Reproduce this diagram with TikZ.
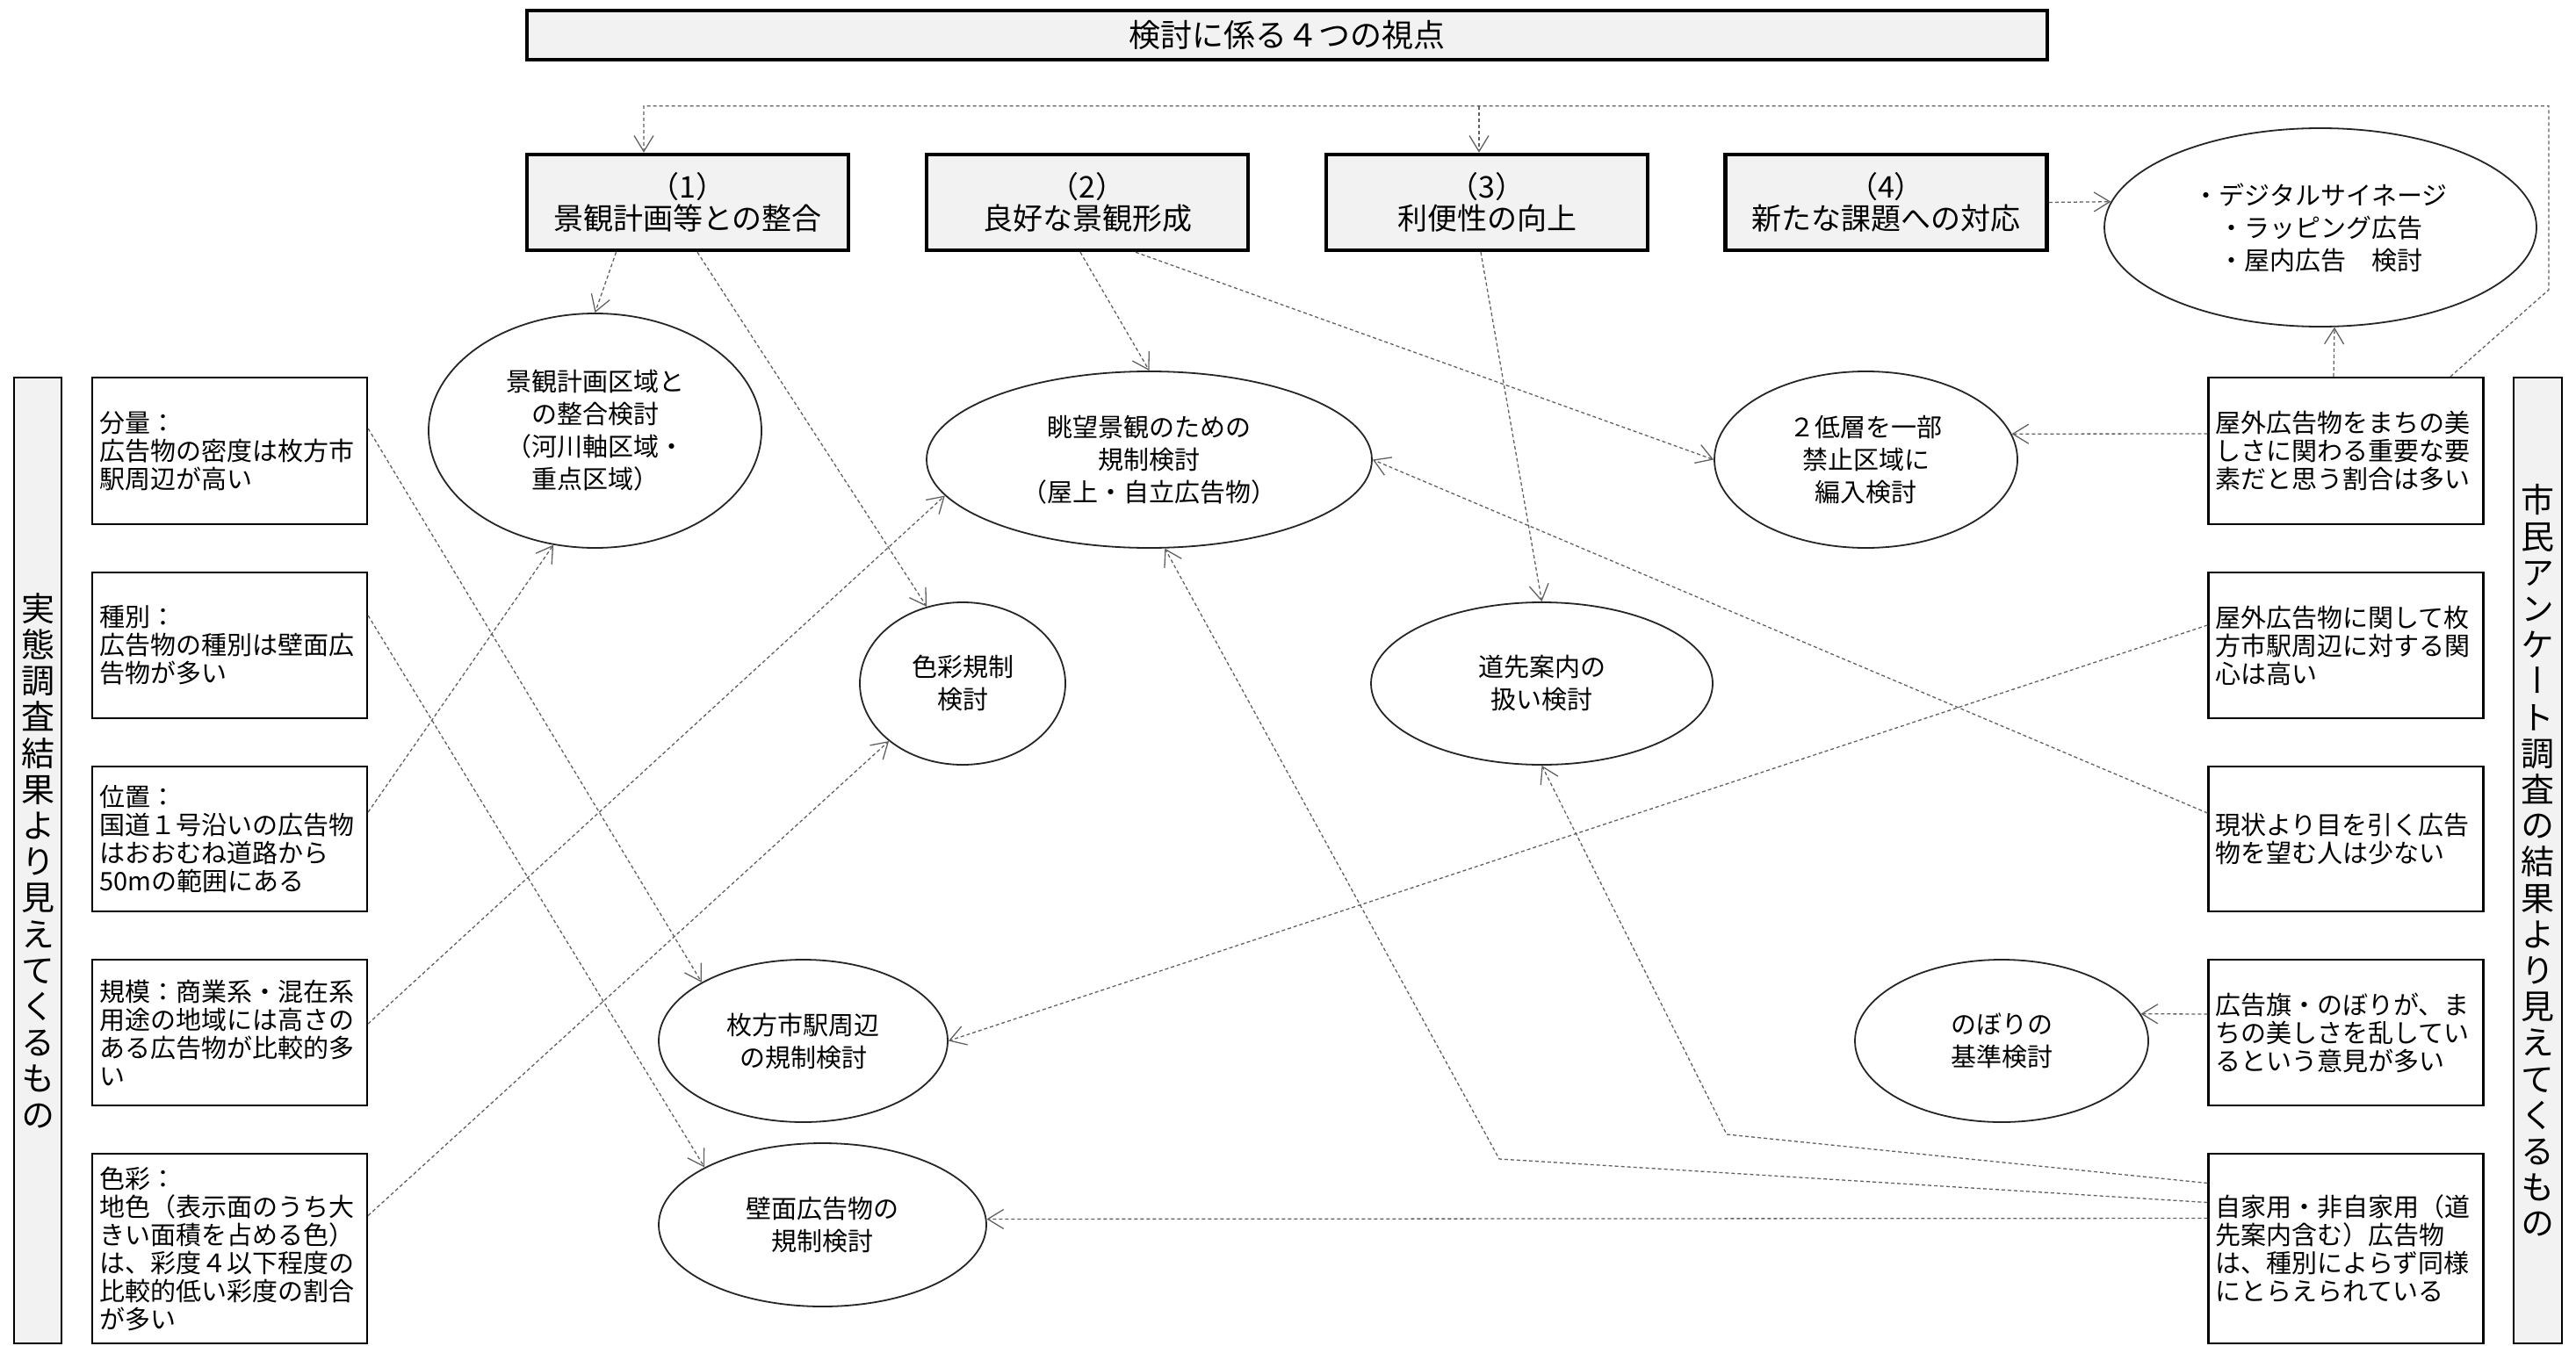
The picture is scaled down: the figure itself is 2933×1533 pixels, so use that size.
\documentclass[tikz,border=0pt]{standalone}
\usepackage{fontspec}
\setmainfont{Noto Sans CJK JP}
\newfontfamily\vertfont[RawFeature=+vert]{Noto Sans CJK JP}
\usetikzlibrary{arrows.meta,shapes.geometric,calc}
\begin{document}
\begin{tikzpicture}[x=1pt,y=-1pt,
  conn/.style={draw=black!62, line width=1.3pt, dash pattern=on 4pt off 3pt,
    -{Straight Barb[length=18pt,width=22pt,line width=1.3pt]}},
  titlebox/.style={draw=black, line width=4.5pt, fill=black!5, minimum width=1731pt,
    minimum height=56pt, inner sep=0pt, font=\fontsize{36}{40}\selectfont},
  topbox/.style={draw=black, line width=4.5pt, fill=black!5, minimum width=366pt,
    minimum height=109pt, align=center, inner sep=0pt, font=\fontsize{34}{36}\selectfont},
  ell/.style={ellipse, draw=black!85, line width=1.8pt, align=center, inner sep=0pt,
    font=\fontsize{29}{37}\selectfont},
  infobox/.style={draw=black, line width=2.2pt, fill=white, align=left, text width=297pt,
    inner xsep=8pt, inner ysep=0pt, font=\fontsize{29}{32}\selectfont},
  sidebar/.style={draw=black, line width=2pt, fill=black!5, align=center, inner sep=0pt,
    minimum height=1100pt, font=\vertfont\fontsize{38}{41.2}\selectfont}
]
\fill[white] (0,0) rectangle (2933,1533);
\useasboundingbox (0,0) rectangle (2933,1533);

% title and viewpoints
\node[titlebox] (T) at (1465.5,40) {検討に係る４つの視点};
\node[topbox] (Q1) at (783,230.5) {（1）\\景観計画等との整合};
\node[topbox] (Q2) at (1238,230.5) {（2）\\良好な景観形成};
\node[topbox] (Q3) at (1693,230.5) {（3）\\利便性の向上};
\node[topbox] (Q4) at (2147.5,230.5) {（4）\\新たな課題への対応};

% side bars
\node[sidebar, minimum width=54pt] (LB) at (43,980) {実\\態\\調\\査\\結\\果\\よ\\り\\見\\え\\て\\く\\る\\も\\の};
\node[sidebar, minimum width=55pt] (RB) at (2889.5,980) {市\\民\\ア\\ン\\ケ\\ー\\ト\\調\\査\\の\\結\\果\\よ\\り\\見\\え\\て\\く\\る\\も\\の};

% left boxes
\node[infobox, minimum height=167pt] (L1) at (261.5,513.5) {分量：\\広告物の密度は枚方市\\駅周辺が高い};
\node[infobox, minimum height=166pt] (L2) at (261.5,735) {種別：\\広告物の種別は壁面広\\告物が多い};
\node[infobox, minimum height=165pt] (L3) at (261.5,955.5) {位置：\\国道１号沿いの広告物\\はおおむね道路から\\50mの範囲にある};
\node[infobox, minimum height=166pt] (L4) at (261.5,1176) {規模：商業系・混在系\\用途の地域には高さの\\ある広告物が比較的多\\い};
\node[infobox, minimum height=216pt] (L5) at (261.5,1422) {色彩：\\地色（表示面のうち大\\きい面積を占める色）\\は、彩度４以下程度の\\比較的低い彩度の割合\\が多い};

% right boxes
\node[infobox, minimum height=167pt] (R1) at (2671,513.5) {屋外広告物をまちの美\\しさに関わる重要な要\\素だと思う割合は多い};
\node[infobox, minimum height=166pt] (R2) at (2671,735) {屋外広告物に関して枚\\方市駅周辺に対する関\\心は高い};
\node[infobox, minimum height=165pt] (R3) at (2671,955.5) {現状より目を引く広告\\物を望む人は少ない};
\node[infobox, minimum height=166pt] (R4) at (2671,1176) {広告旗・のぼりが、ま\\ちの美しさを乱してい\\るという意見が多い};
\node[infobox, minimum height=216pt] (R5) at (2671,1422) {自家用・非自家用（道\\先案内含む）広告物\\は、種別によらず同様\\にとらえられている};

% ellipses
\node[ell, minimum width=492pt, minimum height=226pt] (BE) at (2642,259) {・デジタルサイネージ\\・ラッピング広告\\・屋内広告　検討};
\node[ell, minimum width=379pt, minimum height=267pt] (E1) at (677.5,490.5) {景観計画区域と\\の整合検討\\（河川軸区域・\\重点区域）};
\node[ell, minimum width=507pt, minimum height=201pt] (E2) at (1308.5,523.5) {眺望景観のための\\規制検討\\（屋上・自立広告物）};
\node[ell, minimum width=234pt, minimum height=185pt] (E3) at (1096,778.5) {色彩規制\\検討};
\node[ell, minimum width=389pt, minimum height=185pt] (E4) at (1755.5,778.5) {道先案内の\\扱い検討};
\node[ell, minimum width=345pt, minimum height=201pt] (E5) at (2124.5,523.5) {２低層を一部\\禁止区域に\\編入検討};
\node[ell, minimum width=329pt, minimum height=185pt] (E6) at (914.5,1185.5) {枚方市駅周辺\\の規制検討};
\node[ell, minimum width=373pt, minimum height=186pt] (E7) at (936.5,1395) {壁面広告物の\\規制検討};
\node[ell, minimum width=334pt, minimum height=185pt] (E8) at (2279,1185.5) {のぼりの\\基準検討};

% helper coordinates
\coordinate (lpA) at (2902,330);
\coordinate (lpB) at (2902,120.7);
\coordinate (q1in) at ([xshift=-50pt]Q1.north);
\coordinate (q3in) at ([xshift=-9pt]Q3.north);
\coordinate (cA) at (1966,1292);
\coordinate (cB) at (1707,1320);

% connectors from viewpoints
\draw[conn] ([xshift=-81.5pt]Q1.south) -- (E1.north);
\draw[conn] ([xshift=11pt]Q1.south) -- (E3.115);
\draw[conn] ([xshift=-8pt]Q2.south) -- (E2.north);
\draw[conn] ([xshift=55pt]Q2.south) -- (E5.west);
\draw[conn] ([xshift=-7pt]Q3.south) -- (E4.north);
\draw[conn] (Q4.east) -- (BE.173);

% top loop
\draw[conn] ([xshift=119pt]R1.north) -- (lpA) -- (lpB) -| (q1in);
\draw[conn] (q3in |- lpB) -- (q3in);
\draw[conn] ([xshift=-14pt]R1.north) -- (BE.278);

% right boxes
\draw[conn] ([yshift=19.5pt]R1.west) -- (E5.10);
\draw[conn] ([yshift=23pt]R2.west) -- (E6.east);
\draw[conn] ([yshift=29.5pt]R3.west) -- (E2.east);
\draw[conn] ([yshift=21pt]R4.west) -- (E8.11);
\draw[conn] ([yshift=74.5pt]R5.west) -- (cA) -- (E4.south);
\draw[conn] ([yshift=52.5pt]R5.west) -- (cB) -- (E2.280);
\draw[conn] ([yshift=34.5pt]R5.west) -- (E7.2);

% left boxes
\draw[conn] ([yshift=25.5pt]L1.east) -- (E6.150);
\draw[conn] ([yshift=34pt]L2.east) -- (E7.154);
\draw[conn] ([yshift=30.5pt]L3.east) -- (E1.250);
\draw[conn] ([yshift=10pt]L4.east) -- (E2.190);
\draw[conn] ([yshift=37.5pt]L5.east) -- (E3.218);
\end{tikzpicture}
\end{document}
